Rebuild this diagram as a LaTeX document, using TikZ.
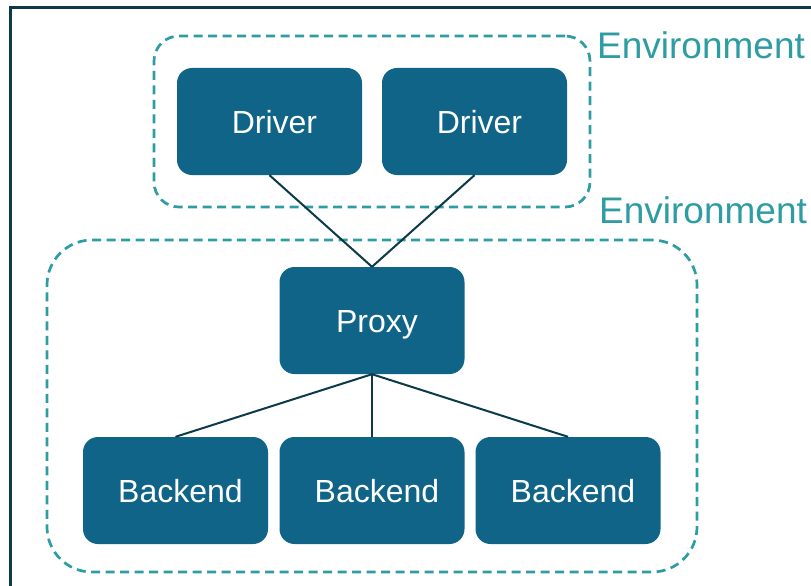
\documentclass[tikz,border=0pt]{standalone}
\usepackage{fontspec}
\setmainfont{Liberation Sans}
\definecolor{boxblue}{HTML}{0F6488}
\definecolor{envteal}{HTML}{2E9CA3}
\definecolor{darkline}{HTML}{0B3A48}
\tikzset{
  box/.style={draw=none, fill=boxblue, rounded corners=15pt, minimum width=185pt, minimum height=107pt, inner sep=0pt},
  boxtext/.style={text=white, font=\fontsize{32}{36}\selectfont, text height=23pt, text depth=0pt, inner sep=0pt},
  envbox/.style={draw=envteal, line width=2.7pt, dash pattern=on 9pt off 5.5pt, inner sep=0pt},
  envlabel/.style={text=envteal, font=\fontsize{37}{42}\selectfont, inner sep=0pt, anchor=base west},
  link/.style={draw=darkline, line width=2pt}
}
\begin{document}
\begin{tikzpicture}[x=1pt,y=-1pt]
\useasboundingbox (0,0) rectangle (811,586);
\fill[white] (0,0) rectangle (811,586);
% outer frame
\coordinate (fa) at (10.5,586);
\coordinate (fb) at (10.5,7.5);
\coordinate (fc) at (811,7.5);
\draw[darkline, line width=2.5pt] (fa) -- (fb) -- (fc);
% environments
\node[envbox, rounded corners=25pt, minimum width=436pt, minimum height=171pt] (env1) at (372,121.5) {};
\node[envbox, rounded corners=45pt, minimum width=650pt, minimum height=332pt] (env2) at (372,406) {};
\node[envlabel] (lab1) at (597,59) {Environment};
\node[envlabel] (lab2) at (599,223) {Environment};
% boxes
\node[box] (d1) at (269.5,121.5) {};
\node[box] (d2) at (474.5,121.5) {};
\node[box] (p) at (372,320.5) {};
\node[box] (b1) at (175.5,490.5) {};
\node[box] (b2) at (372,490.5) {};
\node[box] (b3) at (568,490.5) {};
\node[boxtext] (td1) at ([xshift=5pt]d1.center) {Driver};
\node[boxtext] (td2) at ([xshift=5pt]d2.center) {Driver};
\node[boxtext] (tp) at ([xshift=5pt]p.center) {Proxy};
\node[boxtext] (tb1) at ([xshift=5pt]b1.center) {Backend};
\node[boxtext] (tb2) at ([xshift=5pt]b2.center) {Backend};
\node[boxtext] (tb3) at ([xshift=5pt]b3.center) {Backend};
% links
\draw[link] (d1.south) -- (p.north);
\draw[link] (d2.south) -- (p.north);
\draw[link] (p.south) -- (b1.north);
\draw[link] (p.south) -- (b2.north);
\draw[link] (p.south) -- (b3.north);
\end{tikzpicture}
\end{document}
